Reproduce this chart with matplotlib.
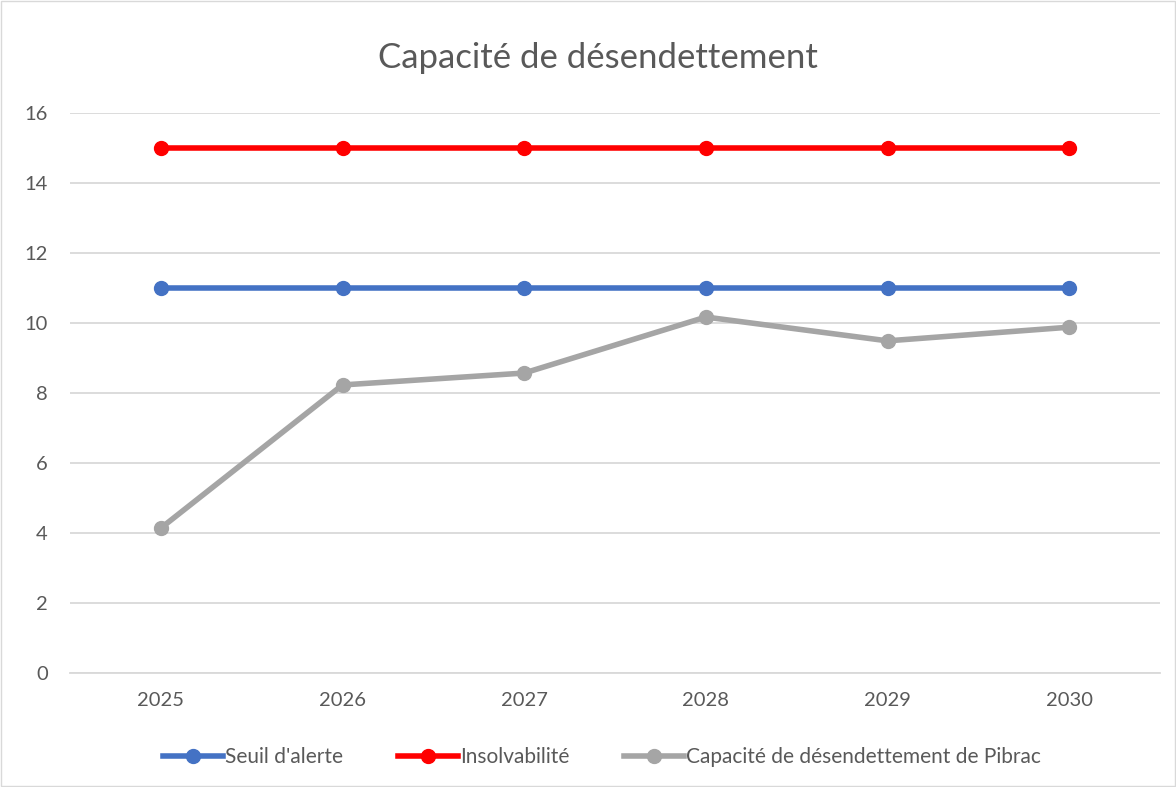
import numpy as np
import matplotlib
matplotlib.use('Agg')
import matplotlib.pyplot as plt
from matplotlib.patches import Rectangle

plt.rcParams['font.family'] = ['Lato', 'DejaVu Sans']

years = ['2025', '2026', '2027', '2028', '2029', '2030']
seuil_alerte = [11, 11, 11, 11, 11, 11]
insolvabilite = [15, 15, 15, 15, 15, 15]
capacite_pibrac = [4.14, 8.23, 8.57, 10.17, 9.49, 9.88]

W, H = 1176, 787
fig = plt.figure(figsize=(W/100., H/100.), dpi=100)
ax = fig.add_axes([70./W, 1-673./H, 1090./W, 560./H])

x = np.arange(len(years))
ax.plot(x, seuil_alerte, '-o', color='#4472C4', lw=4, ms=10, label="Seuil d'alerte", zorder=3)
ax.plot(x, insolvabilite, '-o', color='#FF0000', lw=4, ms=10, label='Insolvabilité', zorder=3)
ax.plot(x, capacite_pibrac, '-o', color='#A5A5A5', lw=4, ms=10,
        label='Capacité de désendettement de Pibrac', zorder=3)

ax.set_xlim(-0.5, len(years)-0.5)
ax.set_ylim(0, 16)
ax.set_yticks(np.arange(0, 17, 2))
ax.set_xticks(x)
ax.set_xticklabels(years)
ax.grid(axis='y', color='#D9D9D9', lw=1.3)
ax.set_axisbelow(True)
for s in ['top', 'right', 'left']:
    ax.spines[s].set_visible(False)
ax.spines['bottom'].set_color('#D9D9D9')
ax.spines['bottom'].set_linewidth(1.3)
ax.tick_params(length=0, labelsize=14.5, colors='#595959', pad=14)
ax.tick_params(axis='y', pad=16)

fig.text(598./W, 1-58./H, 'Capacité de désendettement', ha='center', va='center',
         fontsize=25, color='#595959')

leg = fig.legend(loc='center', bbox_to_anchor=(602./W, 1-757./H), ncol=3, frameon=False,
                 fontsize=15, handlelength=2.9, handletextpad=0.1, columnspacing=2.6,
                 labelcolor='#595959')

fig.patches.append(Rectangle((1./W, 1./H), 1-2./W, 1-2./H, transform=fig.transFigure,
                             fill=False, edgecolor='#D9D9D9', lw=1))

fig.savefig('out.png', dpi=100)
